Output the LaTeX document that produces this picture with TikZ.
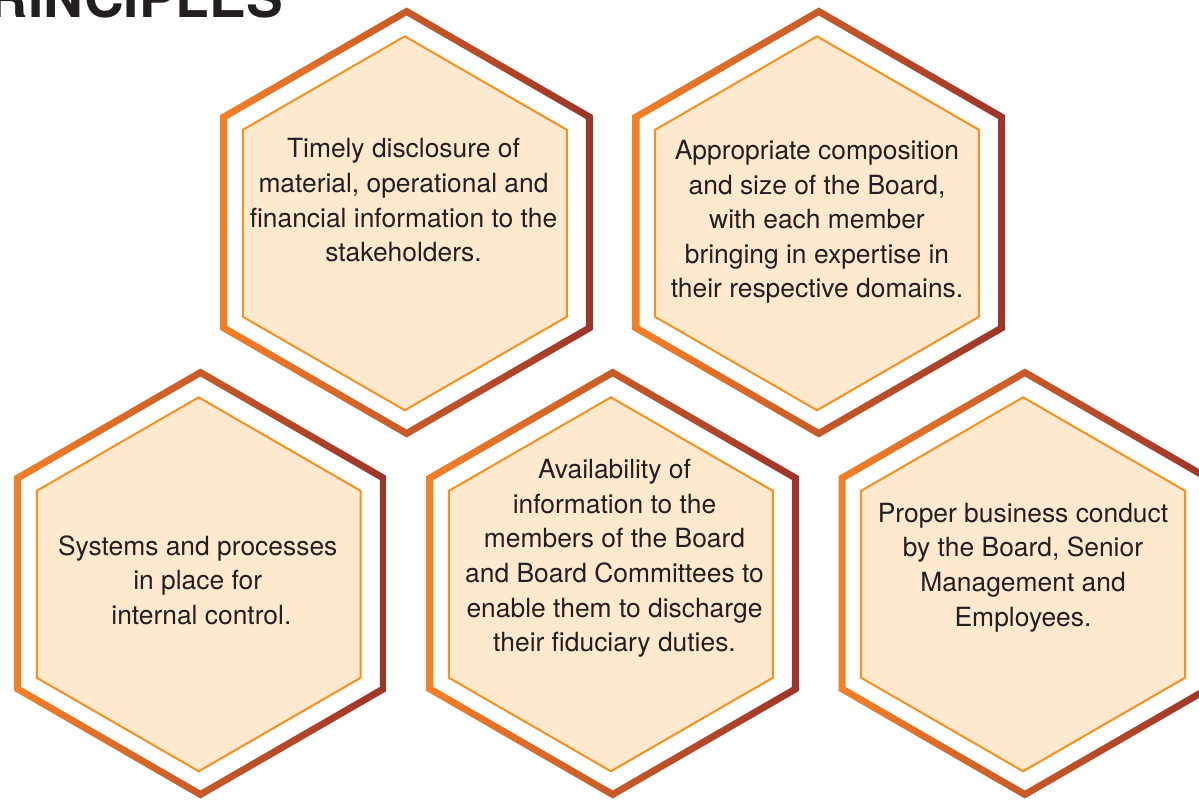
\documentclass[tikz,border=0pt]{standalone}
\usepackage{fontspec}
\setmainfont{TeX Gyre Heros}
\definecolor{hexL}{RGB}{242,128,40}
\definecolor{hexR}{RGB}{157,52,41}
\definecolor{hexInner}{RGB}{247,144,30}
\definecolor{hexFill}{RGB}{254,232,206}
\definecolor{txtcol}{RGB}{35,31,32}
\newcommand\HexAt[2]{([shift={(30:#2)}]#1) -- ([shift={(90:#2)}]#1) -- ([shift={(150:#2)}]#1) -- ([shift={(210:#2)}]#1) -- ([shift={(270:#2)}]#1) -- ([shift={(330:#2)}]#1) -- cycle}
\begin{document}
\begin{tikzpicture}[x=1pt,y=-1pt,
  ringshade/.style={left color=hexL, right color=hexR, even odd rule},
  innerhex/.style={draw=hexInner, line width=2pt, fill=hexFill, line join=miter},
  hextext/.style={font=\fontsize{26.4}{34.6}\selectfont, align=center, text=txtcol, inner sep=0pt, anchor=base},
  titletext/.style={font=\fontsize{55}{60}\selectfont\bfseries, text=txtcol, inner sep=0pt, anchor=base east}]
\useasboundingbox (0,0) rectangle (1199,802);
\clip (0,0) rectangle (1199,802);
\fill[white] (0,0) rectangle (1199,802);
\foreach \n/\x/\y in {1/406.6/222.5, 2/818.8/222.5, 3/200.5/583.5, 4/612.7/583.5, 5/1024.9/583.5} {
  \coordinate (c\n) at (\x,\y);
  \coordinate (i\n) at (\x-1.8,\y+0.8);
}
\foreach \n in {1,...,5} {
  \shade[ringshade] \HexAt{c\n}{215} \HexAt{c\n}{207};
  \path[innerhex] \HexAt{i\n}{187};
}
\node[titletext] (title) at (283,18) {RINCIPLES};
\node[hextext] (t1) at (403.5,261.8) {Timely disclosure of\\material, operational and\\financial information to the\\stakeholders.};
\node[hextext] (t2) at (817,298) {Appropriate composition\\and size of the Board,\\with each member\\bringing in expertise in\\their respective domains.};
\node[hextext] (t3) at (197.7,624.5) {Systems and processes\\in place for\\\ internal control.};
\node[hextext] (t4) at (614.5,651.7) {Availability of\\information to the\\members of the Board\\and Board Committees to\\enable them to discharge\\their fiduciary duties.};
\node[hextext] (t5) at (1023,626) {Proper business conduct\\by the Board, Senior\\Management and\\Employees.};
\end{tikzpicture}
\end{document}
